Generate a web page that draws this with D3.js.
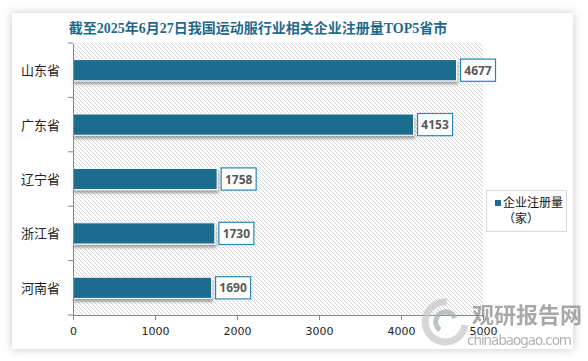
<!DOCTYPE html>
<html><head><meta charset="utf-8">
<script src="https://cdn.jsdelivr.net/npm/d3@7"></script>
<style>
html,body{margin:0;padding:0;background:#fff;}
svg{display:block;}
</style></head>
<body>
<svg id="c" width="588" height="361"></svg>
<script>
const title = "截至2025年6月27日我国运动服行业相关企业注册量TOP5省市";
const categories = ["山东省","广东省","辽宁省","浙江省","河南省"];
const values = [4677, 4153, 1758, 1730, 1690];
const xTicks = [0,1000,2000,3000,4000,5000];
const seriesName = ["企业注册量","（家）"];

const svg = d3.select("#c");
const defs = svg.append("defs");
const sh = defs.append("filter").attr("id","cardsh").attr("x","-10%").attr("y","-10%").attr("width","120%").attr("height","120%");
sh.append("feDropShadow").attr("dx",0).attr("dy",0).attr("stdDeviation",5).attr("flood-color","#000").attr("flood-opacity",0.22);
const bs = defs.append("filter").attr("id","barsh").attr("x","-5%").attr("y","-30%").attr("width","110%").attr("height","180%");
bs.append("feDropShadow").attr("dx",1).attr("dy",3).attr("stdDeviation",1.5).attr("flood-color","#000").attr("flood-opacity",0.35);
const pat = defs.append("pattern").attr("id","hatch").attr("patternUnits","userSpaceOnUse").attr("width",4).attr("height",4);
pat.append("rect").attr("width",4).attr("height",4).attr("fill","#fff");
pat.append("path").attr("d","M-1,-1 L5,5 M-1,3 L1,5 M3,-1 L5,1").attr("stroke","#c8c8c8").attr("stroke-width",0.8);

// card
svg.append("rect").attr("x",12).attr("y",13).attr("width",561).attr("height",336).attr("fill","#fff").attr("filter","url(#cardsh)");

const m = {left:73, right:483, top:43, bottom:315};
const x = d3.scaleLinear().domain([0,5000]).range([m.left, m.right]);
const y = d3.scaleBand().domain(categories).range([m.top, m.bottom]).paddingInner(0.61).paddingOuter(0.305);
const yb = d3.scaleBand().domain(categories).range([m.top, m.bottom]);

// title
svg.append("text").attr("x",258).attr("y",33).attr("text-anchor","middle")
  .attr("font-family","'Liberation Serif', 'Noto Sans CJK SC', serif").attr("font-weight","bold").attr("font-size",14)
  .attr("fill","#1f6a8c").text(title);

// plot bg
svg.append("rect").attr("x",m.left).attr("y",m.top).attr("width",m.right-m.left).attr("height",m.bottom-m.top).attr("fill","url(#hatch)");

// bars
svg.append("g").selectAll("rect").data(values).join("rect")
  .attr("x",x(0)).attr("y",(d,i)=>y(categories[i])).attr("width",d=>x(d)-x(0)).attr("height",y.bandwidth())
  .attr("fill","#1d6c8f").attr("stroke","#fff").attr("stroke-width",1).attr("filter","url(#barsh)");

// labels
const lg = svg.append("g");
values.forEach((d,i)=>{
  const bx = x(d)+4, by = y(categories[i])-0.5;
  lg.append("rect").attr("x",bx).attr("y",by).attr("width",35).attr("height",y.bandwidth()+1)
    .attr("fill","#fff").attr("stroke","#2a86b5").attr("stroke-width",1.2);
  lg.append("text").attr("x",bx+17.5).attr("y",by+y.bandwidth()/2+5).attr("text-anchor","middle")
    .attr("font-family","'Open Sans', sans-serif").attr("font-weight","bold").attr("font-size",12).attr("fill","#595959").text(d);
});

// axes
const ax = svg.append("g").attr("transform",`translate(0,${m.bottom})`)
  .call(d3.axisBottom(x).tickValues(xTicks).tickSize(5).tickSizeOuter(0).tickFormat(d3.format("d")));
ax.select(".domain").attr("stroke","#888");
ax.selectAll(".tick line").attr("stroke","#888");
ax.selectAll(".tick text").attr("font-family","'DejaVu Sans', sans-serif").attr("font-size",11).attr("fill","#222").attr("dy","1.05em");

const ay = svg.append("g").attr("transform",`translate(${m.left},0)`)
  .call(d3.axisLeft(yb).tickSize(0).tickPadding(13).tickFormat(""));
ay.select(".domain").attr("stroke","#888");
const bounds = categories.map(c=>yb(c)).concat([m.bottom]);
svg.append("g").selectAll("line").data(bounds).join("line")
  .attr("x1",m.left-5).attr("x2",m.left).attr("y1",d=>d).attr("y2",d=>d).attr("stroke","#888");
svg.append("g").selectAll("text").data(categories).join("text")
  .attr("x",60).attr("y",d=>yb(d)+yb.bandwidth()/2+5).attr("text-anchor","end")
  .attr("font-family","'Noto Sans CJK SC', sans-serif").attr("font-size",13).attr("fill","#222").text(d=>d);

// legend
svg.append("rect").attr("x",486.5).attr("y",190.5).attr("width",80).attr("height",41).attr("fill","#fff").attr("stroke","#d9d9d9");
svg.append("rect").attr("x",495).attr("y",200).attr("width",6).attr("height",6).attr("fill","#1d6c8f");
svg.append("text").attr("x",503).attr("y",207).attr("font-family","'Noto Sans CJK SC', sans-serif").attr("font-size",12).attr("fill","#111").text(seriesName[0]);
svg.append("text").attr("x",503).attr("y",223).attr("font-family","'Noto Sans CJK SC', sans-serif").attr("font-size",12).attr("fill","#111").text(seriesName[1]);

// watermark
const wm = svg.append("g").attr("opacity",0.75);
wm.append("path").attr("d","M447,302 A20,20 0 1,0 465,325").attr("fill","none").attr("stroke","#c9c9c9").attr("stroke-width",7);
wm.append("path").attr("d","M455,318 A10,10 0 1,0 440,330").attr("fill","none").attr("stroke","#a9b0b3").attr("stroke-width",5);
wm.append("text").attr("x",472).attr("y",323).attr("font-family","'Noto Sans CJK SC', sans-serif").attr("font-weight","bold").attr("font-size",22).attr("fill","#8c8c8c").text("观研报告网");
wm.append("text").attr("x",467).attr("y",345).attr("font-family","'DejaVu Sans', sans-serif").attr("font-size",13.5).attr("fill","#999").attr("textLength",105).text("chinabaogao.com");
</script>
</body></html>
